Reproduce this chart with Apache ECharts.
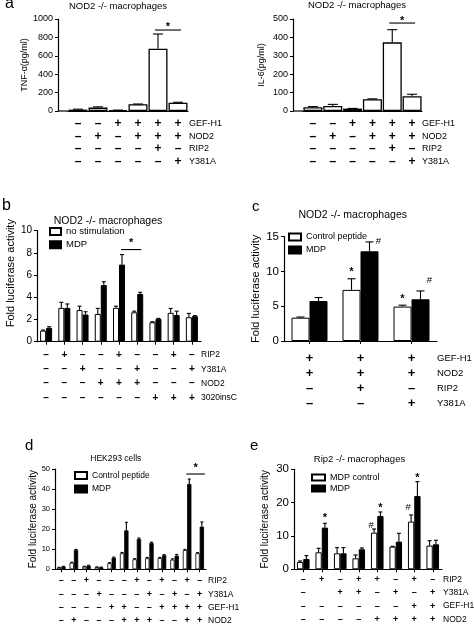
<!DOCTYPE html>
<html><head><meta charset="utf-8">
<script src="https://cdn.jsdelivr.net/npm/echarts@6/dist/echarts.min.js"></script>
<style>html,body{margin:0;padding:0;background:#fff}#c{width:474px;height:639px}</style>
</head><body><div id="c"></div>
<script>
// ================= DATA =================
// Panel a (left: TNF-a, right: IL-6)
const aCategories = ['1','2','3','4','5','6'];
const aRowNames = ['GEF-H1','NOD2','RIP2','Y381A'];
const aSigns = [
  ['–','–','+','+','+','+'],
  ['–','+','–','+','+','+'],
  ['–','–','–','–','+','–'],
  ['–','–','–','–','–','+']
];
const tnfValues = [15, 37, 8, 73, 677, 90];
const tnfErrors = [5, 8, 2, 3, 160, 5];
const il6Values = [20, 27, 13, 64, 373, 80];
const il6Errors = [4, 9, 1, 2, 69, 11];

// Panel b
const bCategories = ['1','2','3','4','5','6','7','8','9'];
const bRowNames = ['RIP2','Y381A','NOD2','3020insC'];
const bSigns = [
  ['–','+','–','–','+','–','–','+','–'],
  ['–','–','+','–','–','+','–','–','+'],
  ['–','–','–','+','+','+','–','–','–'],
  ['–','–','–','–','–','–','+','+','+']
];
const bNoStim    = [1.0, 3.05, 2.85, 2.5, 3.05, 2.65, 1.75, 2.6, 2.2];
const bNoStimErr = [0.05, 0.5, 0.35, 0.5, 0.15, 0.1, 0.05, 0.4, 0.35];
const bMDP       = [1.25, 3.05, 2.45, 5.1, 6.95, 4.3, 2.05, 2.4, 2.3];
const bMDPErr    = [0.1, 0.35, 0.25, 0.3, 0.9, 0.15, 0.05, 0.35, 0.05];

// Panel c
const cCategories = ['1','2','3'];
const cRowNames = ['GEF-H1','NOD2','RIP2','Y381A'];
const cSigns = [
  ['+','+','+'],
  ['+','+','+'],
  ['–','+','–'],
  ['–','–','+']
];
const cCtrl    = [3.35, 7.35, 4.95];
const cCtrlErr = [0.1, 1.6, 0.2];
const cMDP     = [5.75, 12.9, 6.0];
const cMDPErr  = [0.5, 1.35, 1.2];
// [category, series (0 ctrl / 1 MDP), value, symbol]
const cMarks = [[1,0,10.3,'*'],[1,1,14.3,'#'],[2,0,6.4,'*'],[2,1,8.7,'#']];

// Panel d
const dCategories = ['1','2','3','4','5','6','7','8','9','10','11','12'];
const dRowNames = ['RIP2','Y381A','GEF-H1','NOD2'];
const dSigns = [
  ['–','–','+','–','–','–','+','–','+','–','+','–'],
  ['–','–','–','+','–','–','–','+','–','+','–','+'],
  ['–','–','–','–','+','+','–','–','+','+','+','+'],
  ['–','+','–','–','–','+','+','+','–','–','+','+']
];
const dCtrl    = [0.9, 3.3, 1.3, 1.1, 3.0, 8.0, 5.0, 5.5, 5.6, 4.8, 9.6, 8.0];
const dCtrlErr = [0.1, 0.2, 0.2, 0.1, 0.3, 0.4, 0.3, 0.4, 0.3, 0.4, 0.3, 0.3];
const dMDP     = [1.3, 9.6, 1.8, 1.0, 5.8, 19.4, 15.1, 13.1, 7.0, 6.8, 42.5, 21.3];
const dMDPErr  = [0.2, 0.3, 0.2, 0.1, 0.3, 4.0, 0.5, 0.4, 0.3, 0.6, 2.5, 2.3];

// Panel e
const eCategories = ['1','2','3','4','5','6','7','8'];
const eRowNames = ['RIP2','Y381A','GEF-H1','NOD2'];
const eSigns = [
  ['–','+','–','+','+','–','+','–'],
  ['–',' ','+','+','–','+','–','+'],
  ['–','–','–','–','–','–','+','+'],
  ['–','–','–','–','+','+','+','+']
];
const eCtrl    = [2.2, 5.1, 4.8, 3.3, 11.0, 6.8, 14.3, 7.1];
const eCtrlErr = [0.3, 1.2, 1.7, 1.0, 1.1, 0.1, 2.0, 1.5];
const eMDP     = [3.1, 12.5, 4.8, 6.0, 16.0, 8.3, 22.0, 7.5];
const eMDPErr  = [1.0, 1.3, 1.7, 0.4, 1.2, 2.5, 4.3, 1.2];
const eMarks = [[1,1,16,'*'],[4,0,13.1,'#'],[4,1,19,'*'],[6,0,18.5,'#'],[6,1,28,'*']];

// significance brackets: [cat1, series1, cat2, series2, value]
const aLeftSig = [4,0,5,0,880];
const aRightSig = [4,0,5,0,478];
const bSig = [4,1,5,1,8.3];
const dSig = [10,1,11,1,47.5];

// ================= BUILD =================
const FF = '"Liberation Sans", Arial, Helvetica, sans-serif';
const font = (s, b) => (b ? 'bold ' : '') + s + 'px ' + FF;
const grid = [], xAxis = [], yAxis = [], series = [], legend = [], graphic = [];

function txt(x, y, text, size, align, bold) {
  graphic.push({type:'text', x:x, y:y, silent:true,
    style:{text:text, font:font(size, bold), fill:'#000', align:align||'left', verticalAlign:'middle',
           textAlign:align||'left', textVerticalAlign:'middle'}});
}

function addPanel(c) {
  const gi = grid.length;
  grid.push({left:c.x, top:c.top, width:c.w, height:c.h});
  xAxis.push({type:'category', gridIndex:gi, data:c.cats,
    axisLine:{show:true, lineStyle:{color:'#000', width:1.2}},
    axisTick:{show:!!c.xTick, alignWithLabel:true, length:3, lineStyle:{color:'#000', width:1}},
    axisLabel:{interval:0, margin:c.m, lineHeight:c.L, color:'#000', fontSize:c.signFont,
      fontWeight:'bold', fontFamily:FF,
      formatter:(v, i) => c.signs.map(r => r[i] || ' ').join('\n')},
    splitLine:{show:false}});
  yAxis.push({type:'value', gridIndex:gi, min:0, max:c.max, interval:c.interval, offset:c.yOffset || 0,
    axisLine:{show:true, lineStyle:{color:'#000', width:1.2}},
    axisTick:{show:true, length:3, lineStyle:{color:'#000', width:1}},
    axisLabel:{margin:5, color:'#000', fontSize:c.tickFont, fontFamily:FF, formatter:v => String(v)},
    splitLine:{show:false},
    name:c.yName, nameLocation:'middle', nameGap:c.nameGap,
    nameTextStyle:{color:'#000', fontSize:c.nameFont, fontFamily:FF, padding:c.namePad || 0}});
  const offs = c.series.length === 1 ? [0] : [-c.barW/2, c.barW/2];
  c.series.forEach((s, k) => {
    series.push({type:'bar', name:s.name, xAxisIndex:gi, yAxisIndex:gi, data:s.values,
      barWidth:c.barW, barGap:'0%', z:2,
      itemStyle:{color:s.fill, borderColor:'#000', borderWidth:c.border}});
    const errs = s.errors;
    series.push({type:'custom', name:'err' + gi + '_' + k, xAxisIndex:gi, yAxisIndex:gi, clip:false, z:4, silent:true,
      data:s.values.map((v, i) => [i, v, errs[i]]), encode:{x:0, y:1},
      renderItem:(p, api) => {
        const ci = api.value(0), v = api.value(1), e = api.value(2);
        const p0 = api.coord([ci, v]), p1 = api.coord([ci, v + e]);
        const x = p0[0] + offs[k], cw = c.capW;
        return {type:'group', children:[
          {type:'line', shape:{x1:x, y1:p0[1], x2:x, y2:p1[1]}, style:{stroke:'#000', lineWidth:1.1}},
          {type:'line', shape:{x1:x - cw/2, y1:p1[1], x2:x + cw/2, y2:p1[1]}, style:{stroke:'#000', lineWidth:1.1}}
        ]};
      }});
  });
  if (c.marks) {
    const marks = c.marks;
    series.push({type:'custom', name:'marks' + gi, xAxisIndex:gi, yAxisIndex:gi, clip:false, z:5, silent:true,
      data:marks.map(a => [a[0], a[2]]), encode:{x:0, y:1},
      renderItem:(p, api) => {
        const a = marks[p.dataIndex];
        const pt = api.coord([api.value(0), api.value(1)]);
        const star = a[3] === '*';
        const dx = star ? 0 : (c.hashDx || 0);
        return {type:'text', x:pt[0] + offs[a[1]] + dx, y:pt[1] + (star ? 2.5 : 0),
          style:{text:a[3], font:font(star ? 11 : 9.5, star), fill:'#000', align:'center', verticalAlign:'middle',
                 textAlign:'center', textVerticalAlign:'middle'}};
      }});
  }
  if (c.sig) {
    const sg = c.sig;
    series.push({type:'custom', name:'sig' + gi, xAxisIndex:gi, yAxisIndex:gi, clip:false, z:5, silent:true,
      data:[[sg[0], sg[4]]], encode:{x:0, y:1},
      renderItem:(p, api) => {
        const pa = api.coord([sg[0], sg[4]]), pb = api.coord([sg[2], sg[4]]);
        const xa = pa[0] + offs[sg[1]] - c.sigExt, xb = pb[0] + offs[sg[3]] + c.sigExt;
        return {type:'group', children:[
          {type:'line', shape:{x1:xa, y1:pa[1], x2:xb, y2:pa[1]}, style:{stroke:'#000', lineWidth:1.1}},
          {type:'text', x:(xa + xb)/2, y:pa[1] - c.starDy + 2.5,
           style:{text:'*', font:font(11, true), fill:'#000', align:'center', verticalAlign:'middle',
                  textAlign:'center', textVerticalAlign:'middle'}}
        ]};
      }});
  }
  if (c.legend) {
    const lg = c.legend;
    legend.push({orient:'vertical', left:lg.x, top:lg.y, itemWidth:lg.iw, itemHeight:lg.ih, itemGap:lg.gap,
      icon:'rect', padding:0, selectedMode:false, data:c.series.map(s => s.name),
      textStyle:{fontSize:lg.fs, color:'#000', fontFamily:FF, lineHeight:10}});
  }
  // row names for the +/- table
  const axisY = c.top + c.h;
  c.rows.forEach((r, i) => txt(c.x + c.w + c.rowDx, axisY + c.m + c.L/2 + i*c.L, r, c.rowFont, 'left'));
  // extension of x axis line to offset y axis
  if (c.yOffset) {
    graphic.push({type:'line', silent:true, shape:{x1:c.x - c.yOffset, y1:axisY, x2:c.x, y2:axisY},
      style:{stroke:'#000', lineWidth:1.2}});
  }
}

addPanel({x:68, top:19, w:120, h:92, yOffset:10, max:1000, interval:200, tickFont:9,
  yName:'TNF-α(pg/ml)', nameFont:9, nameGap:28.5, cats:aCategories, signs:aSigns, rows:aRowNames,
  m:6.8, L:12.4, signFont:12, rowFont:9, rowDx:1, xTick:false, barW:19, border:1.3, capW:10,
  series:[{name:'TNF', values:tnfValues, errors:tnfErrors, fill:'#fff'}],
  sig:aLeftSig, sigExt:3, starDy:6});
addPanel({x:303, top:19, w:119, h:92, yOffset:10, max:500, interval:100, tickFont:9,
  yName:'IL-6(pg/ml)', nameFont:9, nameGap:26.5, cats:aCategories, signs:aSigns, rows:aRowNames,
  m:6.8, L:12.4, signFont:12, rowFont:9, rowDx:0, xTick:false, barW:19, border:1.3, capW:10,
  series:[{name:'IL-6', values:il6Values, errors:il6Errors, fill:'#fff'}],
  sig:aRightSig, sigExt:3, starDy:5});
addPanel({x:37, top:230.7, w:164, h:111, max:10, interval:2, tickFont:10,
  yName:'Fold luciferase activity', nameFont:11, nameGap:20.7, namePad:[0,0,0,26],
  cats:bCategories, signs:bSigns, rows:bRowNames,
  m:6.2, L:14.3, signFont:10, rowFont:8.5, rowDx:0, xTick:true, barW:6, border:1, capW:4,
  series:[{name:'no stimulation', values:bNoStim, errors:bNoStimErr, fill:'#fff'},
          {name:'MDP', values:bMDP, errors:bMDPErr, fill:'#000'}],
  sig:bSig, sigExt:1, starDy:9,
  legend:{x:49, y:226.5, iw:11, ih:7, gap:3.2, fs:9.5}});
addPanel({x:284, top:236.7, w:153, h:104.3, max:15, interval:5, tickFont:11.5,
  yName:'Fold luciferase activity', nameFont:11, nameGap:23,
  cats:cCategories, signs:cSigns, rows:cRowNames,
  m:9.5, L:15, signFont:13, rowFont:9.5, rowDx:0, xTick:true, barW:18, border:1, capW:8,
  series:[{name:'Control peptide', values:cCtrl, errors:cCtrlErr, fill:'#fff'},
          {name:'MDP', values:cMDP, errors:cMDPErr, fill:'#000'}],
  marks:cMarks, hashDx:9,
  legend:{x:288, y:232, iw:12, ih:7, gap:3, fs:9}});
addPanel({x:55, top:469, w:151, h:100.3, max:50, interval:10, tickFont:7.5,
  yName:'Fold luciferase activity', nameFont:10, nameGap:16,
  cats:dCategories, signs:dSigns, rows:dRowNames,
  m:5, L:13.3, signFont:9, rowFont:8.5, rowDx:2, xTick:true, barW:4.3, border:0.8, capW:3,
  series:[{name:'Control peptide', values:dCtrl, errors:dCtrlErr, fill:'#fff'},
          {name:'MDP', values:dMDP, errors:dMDPErr, fill:'#000'}],
  sig:dSig, sigExt:3, starDy:9,
  legend:{x:74, y:470.5, iw:12, ih:7, gap:3.5, fs:8.5}});
addPanel({x:294, top:469.3, w:148, h:100, max:30, interval:10, tickFont:11.5,
  yName:'Fold luciferase activity', nameFont:10, nameGap:23.4,
  cats:eCategories, signs:eSigns, rows:eRowNames,
  m:3.5, L:13.3, signFont:9, rowFont:8.5, rowDx:1, xTick:true, barW:6.3, border:1, capW:4,
  series:[{name:'MDP control', values:eCtrl, errors:eCtrlErr, fill:'#fff'},
          {name:'MDP', values:eMDP, errors:eMDPErr, fill:'#000'}],
  marks:eMarks, hashDx:-3,
  legend:{x:311, y:472.5, iw:13, ih:6, gap:1, fs:9}});

// panel letters and titles
txt(5, 3.5, 'a', 16, 'left');
txt(2, 206, 'b', 16, 'left');
txt(252, 206.7, 'c', 15, 'left');
txt(25, 446, 'd', 15, 'left');
txt(250, 446, 'e', 15, 'left');
txt(118, 6, 'NOD2 -/- macrophages', 9.5, 'center');
txt(357, 5, 'NOD2 -/- macrophages', 9.5, 'center');
txt(108, 221, 'NOD2 -/- macrophages', 10.5, 'center');
txt(352.7, 215, 'NOD2 -/- macrophages', 10.5, 'center');
txt(115.8, 459, 'HEK293 cells', 8.5, 'center');
txt(359.5, 459, 'Rip2 -/- macrophages', 9.5, 'center');

const chart = echarts.init(document.getElementById('c'), null, {renderer:'canvas'});
chart.setOption({animation:false, backgroundColor:'#fff', textStyle:{fontFamily:FF},
  grid, xAxis, yAxis, series, legend, graphic});
</script></body></html>
